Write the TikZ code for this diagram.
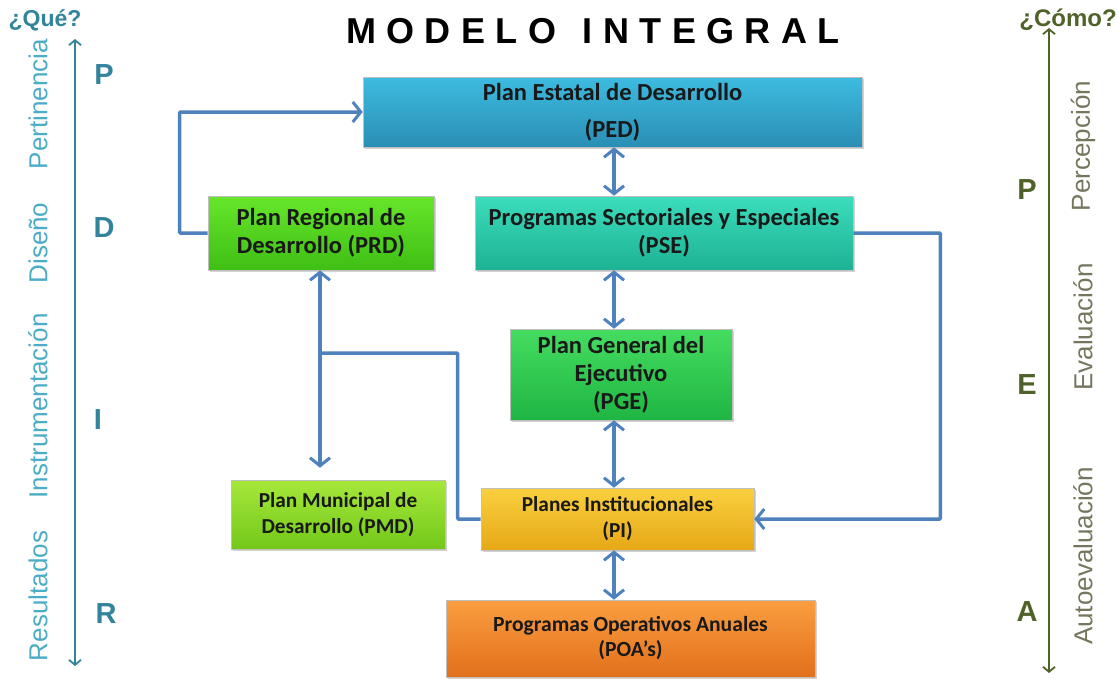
\documentclass[tikz,border=0pt]{standalone}
\usepackage{fontspec}
\setmainfont{Carlito}
\newfontfamily\arialfont{Liberation Sans}
\usetikzlibrary{arrows.meta,shadows}
\definecolor{linkblue}{HTML}{4F81BD}
\definecolor{queteal}{HTML}{31849B}
\definecolor{quelight}{HTML}{4BACC6}
\definecolor{comoolive}{HTML}{4F6228}
\definecolor{comogray}{HTML}{76765F}
\definecolor{pedtop}{HTML}{3DBBE0}
\definecolor{pedbot}{HTML}{2A8EB4}
\definecolor{prdtop}{HTML}{66E62A}
\definecolor{prdbot}{HTML}{3FBF14}
\definecolor{psetop}{HTML}{3BDDBC}
\definecolor{psebot}{HTML}{1DB294}
\definecolor{pgetop}{HTML}{45DD60}
\definecolor{pgebot}{HTML}{1FB543}
\definecolor{pmdtop}{HTML}{A5E83A}
\definecolor{pmdbot}{HTML}{74C81A}
\definecolor{pitop}{HTML}{FAD040}
\definecolor{pibot}{HTML}{E6A816}
\definecolor{poatop}{HTML}{FA9E40}
\definecolor{poabot}{HTML}{E2701C}

\begin{document}
\begin{tikzpicture}[x=1pt,y=-1pt,
	plan/.style={draw=black!25,line width=0.6pt,align=center,text=black!90,
		drop shadow={opacity=0.35,shadow xshift=2pt,shadow yshift=-2pt}},
	bigtxt/.style={font=\bfseries\fontsize{24.5}{28}\selectfont},
	smalltxt/.style={font=\bfseries\fontsize{21.3}{26}\selectfont},
	link/.style={linkblue,line width=3.5pt,{Straight Barb[length=8pt,width=20pt,line width=3pt]}-{Straight Barb[length=8pt,width=20pt,line width=3pt]}},
	flow/.style={linkblue,line width=3.5pt,-{Straight Barb[length=8pt,width=20pt,line width=3pt]}},
	axislbl/.style={rotate=90,font=\arialfont\fontsize{26}{28}\selectfont},
	letter/.style={font=\arialfont\bfseries\fontsize{29}{31}\selectfont}]
	\useasboundingbox (0,0) rectangle (1118,678);

	\node[black,font=\arialfont\bfseries\fontsize{36}{38}\selectfont] (title) at (593,31) {\addfontfeature{LetterSpace=29}MODELO \hspace{6pt}INTEGRAL};

	% boxes
	\node[plan,bigtxt,top color=pedtop,bottom color=pedbot,minimum width=499pt,minimum height=70pt,
		font=\bfseries\fontsize{24.5}{37}\selectfont] (ped) at (612.5,112) {Plan Estatal de Desarrollo\\(PED)};
	\node[plan,bigtxt,top color=prdtop,bottom color=prdbot,minimum width=226pt,minimum height=74pt] (prd) at (321,233) {Plan Regional de\\Desarrollo (PRD)};
	\node[plan,bigtxt,top color=psetop,bottom color=psebot,minimum width=378pt,minimum height=74pt] (pse) at (664,233) {Programas Sectoriales y Especiales\\(PSE)};
	\node[plan,bigtxt,top color=pgetop,bottom color=pgebot,minimum width=222pt,minimum height=91pt] (pge) at (621,374.5) {Plan General del\\Ejecutivo\\(PGE)};
	\node[plan,smalltxt,top color=pmdtop,bottom color=pmdbot,minimum width=214pt,minimum height=69pt] (pmd) at (338,514.5) {Plan Municipal de\\Desarrollo (PMD)};
	\node[plan,smalltxt,top color=pitop,bottom color=pibot,minimum width=273pt,minimum height=62pt] (pi) at (617.5,519) {Planes Institucionales\\(PI)};
	\node[plan,top color=poatop,bottom color=poabot,minimum width=369pt,minimum height=77pt,
		font=\bfseries\fontsize{21.6}{25}\selectfont] (poa) at (630.5,638.5) {Programas Operativos Anuales\\(POA’s)};

	% vertical links
	\coordinate (mid) at (614,0);
	\draw[link] (ped.south -| mid) -- (pse.north -| mid);
	\draw[link] (pse.south -| mid) -- (pge.north -| mid);
	\draw[link] (pge.south -| mid) -- (pi.north -| mid);
	\draw[link] (pi.south -| mid) -- (poa.north -| mid);

	% loops
	\draw[flow,rounded corners=1pt] (prd.west) -- ++(-28,0) |- (ped.west);
	\draw[flow,rounded corners=1pt] (pse.east) -- ++(87,0) |- (pi.east);
	\coordinate (split) at (320,353);
	\draw[linkblue,line width=3.5pt,rounded corners=1pt] (pi.west) -- ++(-23,0) |- (split);
	\draw[flow] (split) -- (prd.south -| split);
	\draw[flow,shorten >=12pt] (split) -- (pmd.north -| split);

	% que axis
	\coordinate (qtop) at (75,39);
	\coordinate (qbot) at (75,666);
	\draw[queteal,line width=2.2pt,{Straight Barb[length=5pt,width=12pt,line width=1.8pt]}-{Straight Barb[length=5pt,width=12pt,line width=1.8pt]}] (qbot) -- (qtop);
	\node[queteal,font=\arialfont\bfseries\fontsize{23}{25}\selectfont] (que) at (45,20) {¿Qué?};
	\node[axislbl,quelight] (pert) at (38,104) {Pertinencia};
	\node[axislbl,quelight] (dise) at (38,243) {Diseño};
	\node[axislbl,quelight] (inst) at (38,406) {Instrumentación};
	\node[axislbl,quelight] (resu) at (38,596) {Resultados};
	\node[letter,queteal] (lp) at (104,75) {P};
	\node[letter,queteal] (ld) at (104,228) {D};
	\node[letter,queteal] (li) at (98,420) {I};
	\node[letter,queteal] (lr) at (106,614) {R};

	% como axis
	\coordinate (ctop) at (1049,28);
	\coordinate (cbot) at (1049,673);
	\draw[comoolive,line width=2.2pt,{Straight Barb[length=5pt,width=12pt,line width=1.8pt]}-{Straight Barb[length=5pt,width=12pt,line width=1.8pt]}] (cbot) -- (ctop);
	\node[comoolive,font=\arialfont\bfseries\fontsize{24}{26}\selectfont] (como) at (1068,20) {¿Cómo?};
	\node[axislbl,comogray] (perc) at (1083,146) {Percepción};
	\node[axislbl,comogray] (eval) at (1083,327) {Evaluación};
	\node[axislbl,comogray] (auto) at (1083,556) {Autoevaluación};
	\node[letter,comoolive] (rp) at (1027,190) {P};
	\node[letter,comoolive] (re) at (1027,385) {E};
	\node[letter,comoolive] (ra) at (1027,612) {A};
\end{tikzpicture}
\end{document}
